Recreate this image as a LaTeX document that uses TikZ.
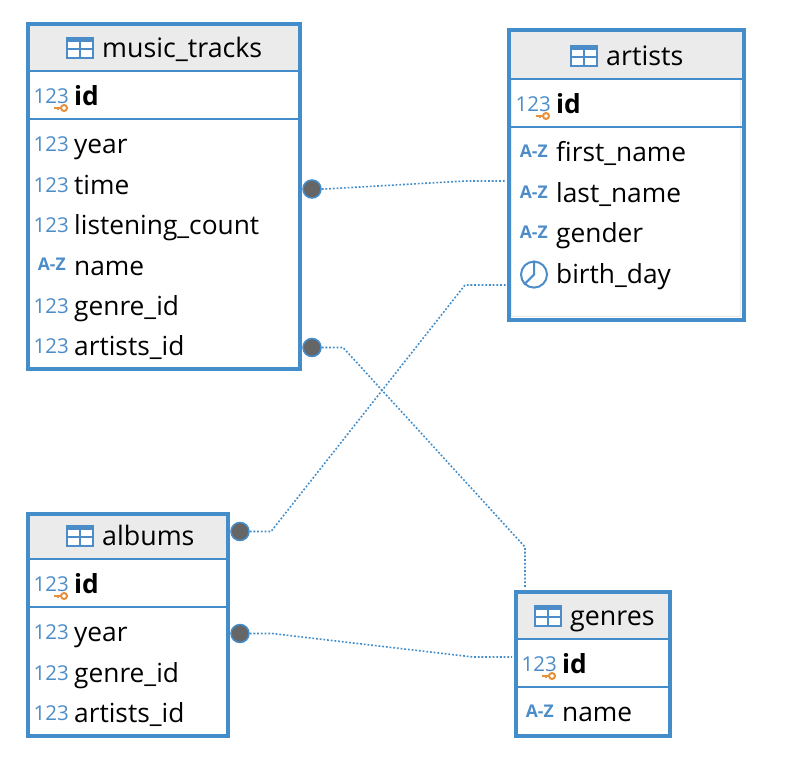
\documentclass[tikz,border=0pt]{standalone}
\usepackage{fontspec}
\setmainfont{Open Sans}
\usepackage{tikz}
\usetikzlibrary{positioning}
\definecolor{frameblue}{HTML}{428DCA}
\definecolor{iconblue}{HTML}{4C8CC8}
\definecolor{headgray}{HTML}{EBEBEB}
\definecolor{dotgray}{HTML}{666666}
\definecolor{keyorange}{HTML}{E8913A}
\tikzset{
table_frame/.style={rectangle, draw=frameblue, line width=4pt, outer sep=0pt, inner sep=0pt, anchor=north west},
table_head/.style={rectangle, fill=headgray, outer sep=0pt, inner sep=0pt, anchor=north west},
table_rule/.style={draw=frameblue, line width=2pt},
table_name/.style={inner sep=0pt, anchor=west, text height=21pt, text depth=4pt, font=\fontsize{26.8}{30}\selectfont},
row_text/.style={rectangle, inner sep=0pt, text width=190pt, align=left, text height=21pt, text depth=4pt, font=\fontsize{26.3}{30}\selectfont},
row_key/.style={row_text, font=\fontsize{26.3}{30}\selectfont\bfseries},
num_icon/.style={inner sep=0pt, minimum width=34pt, yshift=1pt, text=iconblue, font=\fontsize{20.5}{24}\selectfont},
text_icon/.style={inner sep=0pt, minimum width=34pt, yshift=2pt, text=iconblue, font=\fontsize{17.5}{24}\selectfont\bfseries},
clock_icon/.style={circle, draw=iconblue, line width=2pt, inner sep=0pt, minimum size=26pt},
key_dot/.style={circle, draw=frameblue, line width=1.5pt, fill=dotgray, inner sep=0pt, minimum size=18pt},
link/.style={draw=frameblue, line width=1.6pt, dash pattern=on 1.8pt off 1.9pt},
table_icon/.pic={
    \draw[iconblue, line width=2pt, fill=white] (-13,-10) rectangle (13,10);
    \fill[iconblue] (-13,-10) rectangle (13,-6);
    \draw[iconblue, line width=1.6pt] (-13,1) -- (13,1) (0,-10) -- (0,10);
},
key_pic/.pic={
    \draw[keyorange, line width=2pt] (-10,0) -- (-3,0) (-6,0) -- (-6,2);
    \draw[keyorange, line width=2pt, fill=white] (0,0) circle (3pt);
}
}
\begin{document}
\begin{tikzpicture}[x=1pt, y=-1pt]
    \useasboundingbox (0,0) rectangle (810,776);
    % music_tracks
    \node[table_head, minimum width=272pt, minimum height=46.5pt] (tracks_head) at (28,24.5) {};
    \node[table_frame, minimum width=272pt, minimum height=344.5pt] (tracks) at (28,24.5) {};
    \draw[table_rule] (tracks_head.south west) -- (tracks_head.south east);
    \draw[table_rule] (28,119) -- (300,119);
    \pic at (80,48) {table_icon};
    \node[table_name] (tracks_name) at (102,48.5) {music\_tracks};
    \node[row_key, anchor=west] (tracks_id) at (74,97) {id};
    \node[row_text, below=23pt of tracks_id] (tracks_year) {year};
    \node[row_text, below=15pt of tracks_year] (tracks_time) {time};
    \node[row_text, below=15pt of tracks_time] (tracks_count) {listening\_count};
    \node[row_text, below=15pt of tracks_count] (tracks_label) {name};
    \node[row_text, below=15pt of tracks_label] (tracks_genre) {genre\_id};
    \node[row_text, below=15pt of tracks_genre] (tracks_artists) {artists\_id};
    \node[num_icon, left=5pt of tracks_id] (tracks_id_icon) {123};
    \node[num_icon, left=5pt of tracks_year] (tracks_year_icon) {123};
    \node[num_icon, left=5pt of tracks_time] (tracks_time_icon) {123};
    \node[num_icon, left=5pt of tracks_count] (tracks_count_icon) {123};
    \node[text_icon, left=5pt of tracks_label] (tracks_label_icon) {A-Z};
    \node[num_icon, left=5pt of tracks_genre] (tracks_genre_icon) {123};
    \node[num_icon, left=5pt of tracks_artists] (tracks_artists_icon) {123};
    \pic at (64,108) {key_pic};

    % artists
    \node[table_head, minimum width=235pt, minimum height=49pt] (artists_head) at (508.5,30) {};
    \draw[headgray, line width=1.5pt] (511.5,80) -- (511.5,316.7) -- (740.5,316.7) -- (740.5,80);
    \node[table_frame, minimum width=235pt, minimum height=289.5pt] (artists) at (508.5,30) {};
    \draw[table_rule] (artists_head.south west) -- (artists_head.south east);
    \draw[table_rule] (508.5,127) -- (743.5,127);
    \pic at (584,56) {table_icon};
    \node[table_name] (artists_name) at (606,56.5) {artists};
    \node[row_key, anchor=west] (artists_id) at (556,105) {id};
    \node[row_text, below=23pt of artists_id] (artists_first) {first\_name};
    \node[row_text, below=15pt of artists_first] (artists_last) {last\_name};
    \node[row_text, below=15pt of artists_last] (artists_gender) {gender};
    \node[row_text, below=15pt of artists_gender] (artists_birth) {birth\_day};
    \node[num_icon, left=5pt of artists_id] (artists_id_icon) {123};
    \node[text_icon, left=5pt of artists_first] (artists_first_icon) {A-Z};
    \node[text_icon, left=5pt of artists_last] (artists_last_icon) {A-Z};
    \node[text_icon, left=5pt of artists_gender] (artists_gender_icon) {A-Z};
    \node[clock_icon, left=8pt of artists_birth] (artists_birth_icon) {};
    \draw[iconblue, line width=2pt] (artists_birth_icon.north) -- (artists_birth_icon.center) -- (artists_birth_icon.south west);
    \pic at (546,116) {key_pic};

    % albums
    \node[table_head, minimum width=200pt, minimum height=44.5pt] (albums_head) at (28,514) {};
    \node[table_frame, minimum width=200pt, minimum height=222pt] (albums) at (28,514) {};
    \draw[table_rule] (albums_head.south west) -- (albums_head.south east);
    \draw[table_rule] (28,607) -- (228,607);
    \pic at (80,536) {table_icon};
    \node[table_name] (albums_name) at (102,536.5) {albums};
    \node[row_key, anchor=west] (albums_id) at (74,585) {id};
    \node[row_text, below=23pt of albums_id] (albums_year) {year};
    \node[row_text, below=15pt of albums_year] (albums_genre) {genre\_id};
    \node[row_text, below=15pt of albums_genre] (albums_artists) {artists\_id};
    \node[num_icon, left=5pt of albums_id] (albums_id_icon) {123};
    \node[num_icon, left=5pt of albums_year] (albums_year_icon) {123};
    \node[num_icon, left=5pt of albums_genre] (albums_genre_icon) {123};
    \node[num_icon, left=5pt of albums_artists] (albums_artists_icon) {123};
    \pic at (64,596) {key_pic};

    % genres
    \node[table_head, minimum width=154pt, minimum height=47pt] (genres_head) at (516,592) {};
    \node[table_frame, minimum width=154pt, minimum height=144pt] (genres) at (516,592) {};
    \draw[table_rule] (genres_head.south west) -- (genres_head.south east);
    \draw[table_rule] (516,687) -- (670,687);
    \pic at (548,616) {table_icon};
    \node[table_name] (genres_name) at (570,616.5) {genres};
    \node[row_key, anchor=west] (genres_id) at (562,665) {id};
    \node[row_text, below=23pt of genres_id] (genres_label) {name};
    \node[num_icon, left=5pt of genres_id] (genres_id_icon) {123};
    \node[text_icon, left=5pt of genres_label] (genres_label_icon) {A-Z};
    \pic at (552,676) {key_pic};

    % links
    \node[key_dot] (time_dot) at (312,189) {};
    \node[key_dot] (artists_id_dot) at (312,347.5) {};
    \node[key_dot] (albums_head_dot) at (240,531.5) {};
    \node[key_dot] (albums_year_dot) at (240,633.5) {};
    \coordinate (artists_in_a) at (506,181);
    \coordinate (artists_in_b) at (506,285);
    \coordinate (genres_in_a) at (525,588);
    \coordinate (genres_in_b) at (512,657);
    \draw[link] (time_dot) -- (325,189) -- (465,181) -- (artists_in_a);
    \draw[link] (albums_head_dot) -- (271,531.5) -- (465,285) -- (artists_in_b);
    \draw[link] (artists_id_dot) -- (343,347.5) -- (525,547) -- (genres_in_a);
    \draw[link] (albums_year_dot) -- (272,633.5) -- (473,657) -- (genres_in_b);
\end{tikzpicture}
\end{document}
